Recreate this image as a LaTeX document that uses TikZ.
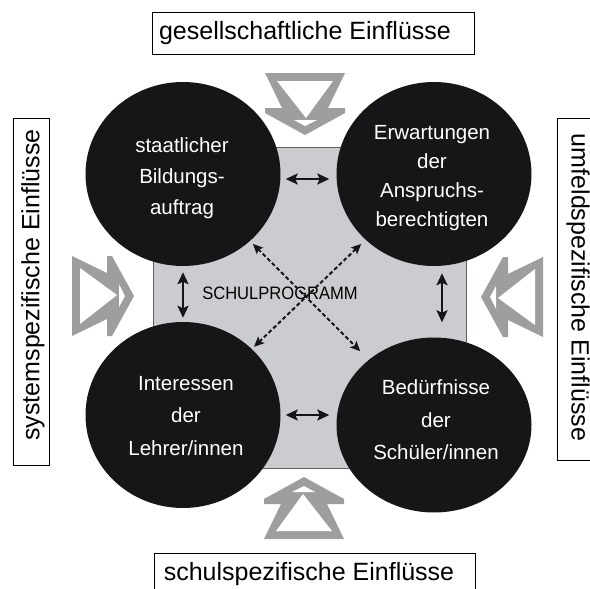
\documentclass[tikz,border=0pt]{standalone}
\usepackage{fontspec}
\setmainfont{Liberation Sans}
\usetikzlibrary{arrows.meta,shapes.geometric}

\definecolor{panelgray}{RGB}{203,204,208}
\definecolor{panelframe}{RGB}{95,95,95}
\definecolor{flowgray}{RGB}{158,158,158}
\definecolor{discblack}{RGB}{22,22,24}

\tikzset{
  disc/.style={ellipse, fill=discblack, draw=none, inner sep=0pt,
    minimum width=195pt, minimum height=184pt},
  disctext/.style={text=white, align=center, inner sep=0pt,
    font=\fontsize{20.5}{31}\selectfont},
  labelbox/.style={draw=black, line width=0.9pt, fill=white, inner sep=0pt},
  boxtext/.style={inner sep=0pt, font=\fontsize{25}{30}\selectfont},
  panel/.style={fill=panelgray, draw=panelframe, line width=1pt, inner sep=0pt},
  link/.style={line width=2.4pt, draw=discblack,
    {Stealth[length=12pt,width=11pt,inset=2.5pt]}-{Stealth[length=12pt,width=11pt,inset=2.5pt]}},
  crosslink/.style={line width=2pt, draw=discblack, dash pattern=on 4pt off 2.5pt,
    {Stealth[length=10pt,width=9pt,inset=2pt]}-{Stealth[length=10pt,width=9pt,inset=2pt]}},
  % hollow double chevron, base at the origin, pointing along local +y
  inflow/.pic={
    \fill[flowgray] (-40,0) -- (40,0) -- (23,35) -- (40,35) -- (40,40) -- (0,62)
      -- (-40,40) -- (-40,35) -- (-23,35) -- cycle;
    \fill[white] (-28,8) -- (28,8) -- (1,45) -- cycle;
    \fill[white] (-11,47) -- (12,47) -- (0,53) -- cycle;
  }
}

\begin{document}
\begin{tikzpicture}[x=1pt,y=-1pt]
\useasboundingbox (0,0) rectangle (590,589);

% central panel
\node[panel, minimum width=313pt, minimum height=321pt] (board) at (309.5,307.5) {};
\node[inner sep=0pt, font=\fontsize{18}{20}\selectfont, xscale=0.92, transform shape]
  (programme) at (280,293) {SCHULPROGRAMM};

% the four stakeholder discs
\node[disc] (state) at (183,174) {};
\node[disc] (claim) at (434,174) {};
\node[disc, minimum height=186pt] (teach) at (183,415) {};
\node[disc, minimum height=175pt] (pupil) at (434,425) {};

\node[disctext] (statetext) at (182,178) {staatlicher\\Bildungs-\\auftrag};
\node[disctext, font=\fontsize{20.5}{29}\selectfont] (claimtext) at (432,178) {Erwartungen\\der\\Anspruchs-\\berechtigten};
\node[disctext, font=\fontsize{20.5}{32.5}\selectfont] (teachtext) at (186,416) {Interessen\\der\\Lehrer/innen};
\node[disctext, font=\fontsize{20.5}{32.5}\selectfont] (pupiltext) at (436,420) {Bedürfnisse\\der\\Schüler/innen};

% relations between the discs
\draw[link, shorten <=5pt, shorten >=7pt] ([yshift=-5pt]state.east) -- ([yshift=-5pt]claim.west);
\draw[link, shorten <=5pt, shorten >=7pt] (teach.east) -- ([yshift=10pt]pupil.west);
\draw[link, shorten <=6pt, shorten >=4pt] (state.south) -- (teach.north);
\draw[link, shorten <=7pt, shorten >=15pt] ([xshift=8pt]claim.south) -- ([xshift=8pt]pupil.north);
\draw[crosslink, shorten <=4pt, shorten >=12pt] (state) -- (pupil);
\draw[crosslink, shorten <=6pt, shorten >=3pt] (claim) -- (teach);

% outer influences
\node[labelbox, minimum width=322pt, minimum height=42pt] (topbox) at (313,33) {};
\node[boxtext] (toptext) at (305,33) {gesellschaftliche Einflüsse};

\node[labelbox, minimum width=321pt, minimum height=70pt] (bottombox) at (314.5,588) {};
\node[boxtext] (bottomtext) at (309,574) {schulspezifische Einflüsse};

\node[labelbox, minimum width=36pt, minimum height=347pt] (leftbox) at (31,291.5) {};
\node[boxtext, rotate=90] (lefttext) at (33,285) {systemspezifische Einflüsse};

\node[labelbox, minimum width=63pt, minimum height=342pt] (rightbox) at (588.5,289) {};
\node[boxtext, rotate=-90] (righttext) at (578,287.5) {umfeldspezifische Einflüsse};

% influence arrows
\pic at (305,73) {inflow};
\pic[rotate=180] at (304,539) {inflow};
\pic[rotate=90] at (72,296) {inflow};
\pic[rotate=-90] at (543,297) {inflow};
\end{tikzpicture}
\end{document}
